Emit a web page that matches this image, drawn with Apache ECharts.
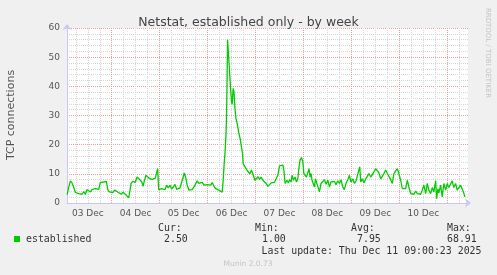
<!DOCTYPE html>
<html><head><meta charset="utf-8">
<script src="https://cdn.jsdelivr.net/npm/echarts@6/dist/echarts.min.js"></script>
<style>html,body{margin:0;padding:0;background:#f0f0f0}#c{width:497px;height:275px}</style>
</head><body><div id="c"></div>
<script>
// hours relative to 04 Dec 00:00
const hours = [-22.3,-21.5,-20.7,-19.9,-19.0,-18.2,-17.4,-16.5,-15.7,-14.9,-14.0,-13.2,-12.4,-11.5,-10.7,-9.9,-9.0,-8.2,-7.4,-6.5,-5.7,-4.9,-4.0,-3.2,-2.7,-2.0,-1.2,-0.2,0.5,1.5,2.3,3.2,4.0,4.8,5.7,6.8,7.8,8.5,9.2,9.7,10.5,11.3,11.8,12.7,13.5,14.3,15.2,15.7,16.3,17.2,17.8,18.5,19.3,20.2,21.0,21.8,22.3,23.0,23.5,24.3,25.0,25.8,26.7,27.5,28.3,29.2,30.0,30.8,31.7,32.5,33.3,34.2,35.0,35.8,36.3,37.0,37.8,38.7,39.5,40.3,41.2,42.0,42.8,43.7,44.5,45.3,46.2,47.0,47.8,48.7,49.5,50.3,51.2,52.0,52.8,53.7,54.5,55.3,55.8,56.3,56.7,57.2,57.5,57.8,58.0,58.5,58.8,59.5,60.0,60.3,60.8,61.2,61.7,62.2,62.7,63.0,63.5,63.8,64.3,65.0,65.5,65.8,66.7,67.5,68.3,69.2,70.0,70.8,71.7,72.5,73.3,74.0,74.8,75.7,76.5,77.3,78.2,79.0,79.8,80.7,81.5,82.3,83.2,84.0,84.8,85.7,86.2,86.8,87.7,88.5,89.0,89.8,90.3,91.0,91.8,92.5,93.2,93.7,94.3,95.0,95.7,96.2,96.8,97.5,98.2,98.8,99.3,99.8,100.3,101.0,101.5,102.0,102.7,103.2,104.0,104.8,105.7,106.5,107.3,108.2,109.0,109.8,110.7,111.5,112.3,113.2,114.0,114.8,115.7,116.5,117.3,118.2,119.0,119.8,120.7,121.5,122.3,123.0,123.5,124.2,124.7,125.5,126.3,127.2,128.0,128.8,129.7,130.5,131.3,132.2,133.0,133.8,134.7,135.5,136.3,137.2,138.0,138.8,139.7,140.5,141.3,142.2,143.0,143.5,144.2,144.7,145.5,146.3,147.2,148.0,148.5,148.8,149.7,150.5,151.3,152.2,153.0,153.8,154.7,155.5,156.3,157.2,158.0,158.8,159.7,160.5,161.3,162.2,162.7,163.3,163.8,164.7,165.5,166.3,167.2,168.0,168.8,169.7,170.5,171.3,172.2,173.0,173.8,174.7,175.5,176.3,176.8];
const established = [2.9,5.5,7.6,6.9,5.3,3.6,3.8,3.2,3.7,3.0,3.9,2.9,4.6,4.0,3.8,4.6,4.4,4.9,4.4,4.7,7.1,6.9,7.2,6.9,7.4,4.6,3.8,4.4,3.6,4.4,4.8,3.7,3.9,3.0,3.7,3.0,2.6,1.8,4.6,6.7,7.4,8.0,7.1,8.9,8.4,7.8,7.0,5.7,7.6,9.5,10.1,8.6,8.4,8.0,8.4,8.5,9.9,11.8,4.6,5.0,4.9,5.5,4.6,6.1,5.2,6.1,4.8,5.5,6.4,4.7,5.3,5.2,5.8,8.9,10.3,8.9,6.1,4.4,3.8,4.6,5.5,6.1,7.6,6.7,6.3,7.1,6.1,6.7,6.3,6.9,6.1,7.0,5.8,4.9,4.6,4.4,4.1,3.7,7.7,13.5,17.0,23.3,30.0,43.9,56.0,55.4,47.4,39.3,34.7,33.8,39.3,38.2,32.5,29.0,28.5,26.7,24.4,24.8,22.1,19.0,17.0,13.5,12.4,13.0,10.7,10.0,11.3,10.7,7.8,7.2,9.0,8.1,8.9,7.8,8.3,6.7,5.7,6.3,6.9,6.4,7.1,7.6,9.5,12.7,13.1,13.0,11.3,6.7,7.8,6.9,8.0,7.2,9.5,7.8,8.9,7.2,8.3,11.8,14.7,15.6,14.1,10.1,10.7,8.9,9.5,11.8,8.9,10.1,7.8,7.2,5.5,8.3,6.7,5.7,3.8,6.7,6.1,8.0,6.4,7.8,5.5,7.2,6.7,7.4,6.3,7.6,6.7,8.0,5.5,4.6,6.7,8.0,9.5,7.2,8.3,6.7,7.5,7.0,10.7,12.4,7.2,8.3,6.9,8.3,7.8,10.1,8.9,9.5,10.7,11.8,11.8,10.3,8.3,8.9,10.1,11.3,10.1,10.3,8.0,6.7,10.1,9.5,11.8,10.7,10.1,7.8,4.9,5.3,4.9,7.8,7.2,5.5,3.2,3.8,3.0,4.1,3.2,3.8,3.0,4.4,6.1,3.2,6.7,4.4,3.2,5.3,3.8,7.6,1.5,4.9,3.4,6.1,2.1,6.7,4.4,6.7,5.3,5.8,7.6,5.3,6.7,4.4,4.9,6.1,5.5,3.4,2.1];
const dayLabels = ['03 Dec','04 Dec','05 Dec','06 Dec','07 Dec','08 Dec','09 Dec','10 Dec'];
const labelHours = [-12,12,36,60,84,108,132,156];
const dayLines = [0,24,48,72,96,120,144,168];
const minorLines = [-18,-12,-6,6,12,18,30,36,42,54,60,66,78,84,90,102,108,114,126,132,138,150,156,162,174];
const statNames = ['Cur:','Min:','Avg:','Max:'];
const statValues = ['2.50','1.00','7.95','68.91'];
const seriesName = 'established';
const lastUpdate = 'Last update: Thu Dec 11 09:00:23 2025';

const X_MIN = -22.4, X_MAX = 178.4;
const GREEN = '#00cc00';
const MAJ = '#e8a0a0', MIN = '#d6d6d6', AX = '#c8c8f0';
const mono = '"DejaVu Sans Mono", monospace';
const sans = '"DejaVu Sans", sans-serif';

const chart = echarts.init(document.getElementById('c'), null, {renderer: 'canvas'});
const statX = [[158, 164], [255, 262], [351, 357], [447, 447]];
const graphics = [
  {type:'text', x:11, y:115, rotation:Math.PI/2, style:{text:'TCP connections', font:'11px '+sans, fill:'#555', align:'center', verticalAlign:'middle'}},
  {type:'text', x:488, y:53, rotation:-Math.PI/2, style:{text:'RRDTOOL / TOBI OETIKER', font:'7px '+sans, fill:'#c4c4c4', align:'center', verticalAlign:'middle'}},
  {type:'rect', shape:{x:14, y:236, width:6, height:6}, style:{fill:GREEN}},
  {type:'text', x:26, y:239.5, style:{text:seriesName, font:'9.9px '+mono, fill:'#333', align:'left', verticalAlign:'middle'}},
  {type:'text', x:261.5, y:251.5, style:{text:lastUpdate, font:'9.9px '+mono, fill:'#333', align:'left', verticalAlign:'middle'}},
  {type:'text', x:248, y:264.5, style:{text:'Munin 2.0.73', font:'7.5px '+sans, fill:'#c4c4c4', align:'center', verticalAlign:'middle'}}
];
statNames.forEach((n, i) => {
  graphics.push({type:'text', x:statX[i][0], y:228, style:{text:n, font:'9.9px '+mono, fill:'#333', align:'left', verticalAlign:'middle'}});
  graphics.push({type:'text', x:statX[i][1], y:239.5, style:{text:statValues[i], font:'9.9px '+mono, fill:'#333', align:'left', verticalAlign:'middle'}});
});

chart.setOption({
  animation: false,
  backgroundColor: '#f0f0f0',
  title: {text:'Netstat, established only - by week', left:'center', top:11,
    textStyle:{fontSize:12.5, fontWeight:'normal', color:'#444', fontFamily:sans}},
  grid: {left:67, right:29, top:28, bottom:72, show:true, backgroundColor:'#ffffff', borderWidth:0},
  xAxis: [
    {type:'value', min:X_MIN, max:X_MAX, position:'top',
      axisLine:{show:false}, axisLabel:{show:false},
      axisTick:{show:false, customValues:minorLines},
      splitLine:{show:true, lineStyle:{color:MIN, type:[1,1], width:1}}},
    {type:'value', min:X_MIN, max:X_MAX, position:'bottom',
      axisLine:{show:true, onZero:false, lineStyle:{color:AX, width:1}, symbol:['none','arrow'], symbolSize:[7,6], symbolOffset:[0,3]},
      axisTick:{show:false, customValues:dayLines},
      axisLabel:{customValues:labelHours, fontSize:9, color:'#555', fontFamily:sans, margin:6,
        formatter: v => { const i = labelHours.findIndex(h => Math.abs(h - v) < 0.01); return i >= 0 ? dayLabels[i] : ''; }},
      splitLine:{show:true, lineStyle:{color:MAJ, type:[1,1], width:1}}}
  ],
  yAxis: {type:'value', min:0, max:60, interval:10, position:'left',
    axisLine:{show:true, onZero:false, lineStyle:{color:AX, width:1}, symbol:['none','arrow'], symbolSize:[7,6], symbolOffset:[0,4]},
    axisTick:{show:false},
    axisLabel:{fontSize:9, color:'#555', fontFamily:sans, margin:7},
    splitLine:{show:true, lineStyle:{color:MAJ, type:[1,1], width:1}},
    minorTick:{show:false, splitNumber:5},
    minorSplitLine:{show:true, lineStyle:{color:MIN, type:[1,1], width:1}}},
  graphic: graphics,
  series: [{
    name: seriesName, type:'line', xAxisIndex:1, showSymbol:false,
    data: hours.map((h, i) => [h, established[i]]),
    lineStyle:{color:GREEN, width:1.3}, itemStyle:{color:GREEN}
  }]
});
</script></body></html>
